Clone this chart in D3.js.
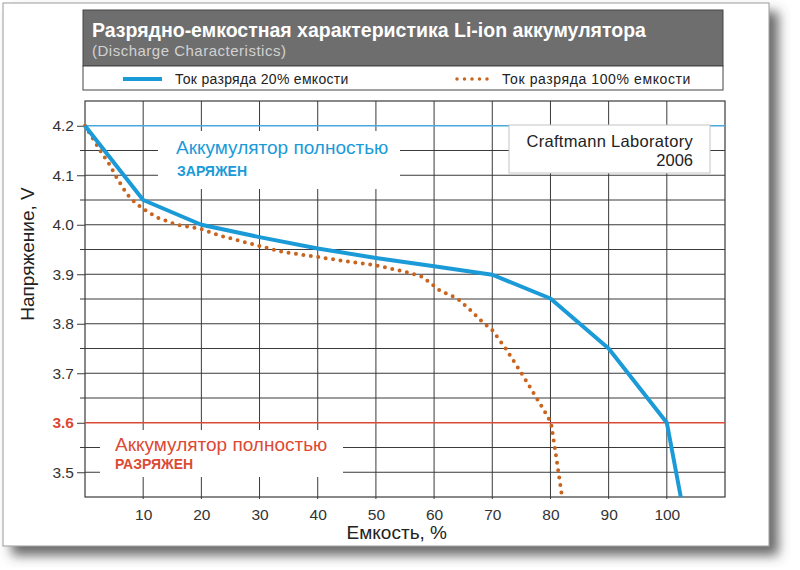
<!DOCTYPE html>
<html>
<head>
<meta charset="utf-8">
<script src="https://cdn.jsdelivr.net/npm/d3@7"></script>
<style>
  body { margin: 0; background: #fff; }
  svg { display: block; font-family: "Liberation Sans", Arial, sans-serif; }
</style>
</head>
<body>
<div id="chart"></div>
<script>
const width = 800;
const height = 570;

// capacity, % / voltage, V
const capacity20 = [0, 10, 20, 30, 40, 50, 60, 70, 80, 90, 100, 102.4];
const voltage20 = [4.2, 4.05, 4.0, 3.975, 3.952, 3.933, 3.916, 3.899, 3.851, 3.75, 3.6, 3.45];

const capacity100 = [0, 2.6, 4.3, 5.4, 7.2, 8.6, 10, 12.3, 15.8, 19.8, 23.2, 29, 34, 40, 45, 50, 55, 58, 61, 64, 66, 68, 70, 72.3, 75.4, 78.9, 80.1, 81, 82];
const voltage100 = [4.2, 4.15, 4.12, 4.096, 4.062, 4.045, 4.032, 4.015, 4.0, 3.992, 3.978, 3.96, 3.945, 3.935, 3.926, 3.918, 3.905, 3.895, 3.867, 3.851, 3.83, 3.807, 3.787, 3.75, 3.693, 3.625, 3.6, 3.53, 3.45];

const xTicks = [10, 20, 30, 40, 50, 60, 70, 80, 90, 100];
const yTicks = [3.5, 3.6, 3.7, 3.8, 3.9, 4.0, 4.1, 4.2];
const gridY = [3.5, 3.55, 3.65, 3.7, 3.75, 3.8, 3.85, 3.9, 3.95, 4.0, 4.05, 4.1, 4.15];

const title = 'Разрядно-емкостная характеристика Li-ion аккумулятора';
const subtitle = '(Discharge Characteristics)';
const legendLabels = ['Ток разряда 20% емкости', 'Ток разряда 100% емкости'];

const blue = '#1b9ad8';
const orange = '#c8641e';
const red = '#dc4a35';

const svg = d3.select('#chart')
    .append('svg')
    .attr('width', width)
    .attr('height', height);

// card with shadow
const defs = svg.append('defs');
const f = defs.append('filter').attr('id', 'shadow')
    .attr('x', '-5%').attr('y', '-5%').attr('width', '115%').attr('height', '115%');
f.append('feDropShadow')
    .attr('dx', 9).attr('dy', 9).attr('stdDeviation', 6)
    .attr('flood-color', '#444').attr('flood-opacity', 0.8);

svg.append('rect')
    .attr('x', 3).attr('y', 3).attr('width', 766).attr('height', 543)
    .attr('fill', '#fff').attr('stroke', '#9a9a9a')
    .attr('filter', 'url(#shadow)');

// header
svg.append('rect')
    .attr('x', 83).attr('y', 10).attr('width', 640).attr('height', 56)
    .attr('fill', '#6e6e6e').attr('stroke', '#444');
svg.append('rect')
    .attr('x', 83).attr('y', 66).attr('width', 640).attr('height', 24)
    .attr('fill', '#fff').attr('stroke', '#444');

svg.append('text').attr('x', 92).attr('y', 37)
    .attr('fill', '#fff').attr('font-weight', 'bold').attr('font-size', 19.5)
    .text(title);
svg.append('text').attr('x', 92).attr('y', 56)
    .attr('fill', '#d2d2d2').attr('font-size', 15).attr('letter-spacing', 0.5)
    .text(subtitle);

// legend
svg.append('line').attr('x1', 123).attr('x2', 162).attr('y1', 79).attr('y2', 79)
    .attr('stroke', blue).attr('stroke-width', 4);
svg.append('text').attr('x', 175).attr('y', 84).attr('font-size', 14).attr('letter-spacing', 0.3).attr('fill', '#222')
    .text(legendLabels[0]);
svg.append('line').attr('x1', 457).attr('x2', 494).attr('y1', 79).attr('y2', 79)
    .attr('stroke', orange).attr('stroke-width', 3.5)
    .attr('stroke-linecap', 'round').attr('stroke-dasharray', '0,7.5');
svg.append('text').attr('x', 502).attr('y', 84).attr('font-size', 14).attr('letter-spacing', 0.6).attr('fill', '#222')
    .text(legendLabels[1]);

// scales
const xScale = d3.scaleLinear().domain([0, 110]).range([85, 725]);
const yScale = d3.scaleLinear().domain([3.45, 4.25]).range([497, 101]);

const grid = svg.append('g').attr('stroke', '#3a3a3a').attr('stroke-width', 1);

grid.selectAll('line.h')
    .data(gridY)
    .join('line')
    .attr('class', 'h')
    .attr('x1', xScale(0)).attr('x2', xScale(110))
    .attr('y1', d => yScale(d)).attr('y2', d => yScale(d));

grid.selectAll('line.v')
    .data(xTicks)
    .join('line')
    .attr('class', 'v')
    .attr('x1', d => xScale(d)).attr('x2', d => xScale(d))
    .attr('y1', yScale(4.25)).attr('y2', yScale(3.45) + 2);

// frame
svg.append('rect')
    .attr('x', xScale(0)).attr('y', yScale(4.25))
    .attr('width', xScale(110) - xScale(0))
    .attr('height', yScale(3.45) - yScale(4.25))
    .attr('fill', 'none').attr('stroke', '#3a3a3a').attr('stroke-width', 1.2);

// y axis ticks and labels
const yAxis = d3.axisLeft(yScale)
    .tickValues(yTicks)
    .tickSize(8)
    .tickPadding(3)
    .tickFormat(d3.format('.1f'));
const gy = svg.append('g')
    .attr('transform', `translate(${xScale(0)},0)`)
    .call(yAxis);
gy.select('.domain').remove();
gy.selectAll('.tick line').attr('stroke', '#3a3a3a');
gy.selectAll('.tick text')
    .attr('font-size', 15.5).attr('font-family', null)
    .attr('fill', d => d === 3.6 ? red : '#333')
    .attr('font-weight', d => d === 3.6 ? 'bold' : null);

svg.append('g').selectAll('line')
    .data(gridY.filter(d => !yTicks.includes(d)))
    .join('line')
    .attr('x1', xScale(0) - 5).attr('x2', xScale(0))
    .attr('y1', d => yScale(d)).attr('y2', d => yScale(d))
    .attr('stroke', '#3a3a3a');

// x axis labels
const xAxis = d3.axisBottom(xScale)
    .tickValues(xTicks)
    .tickSize(0)
    .tickPadding(12);
const gx = svg.append('g')
    .attr('transform', `translate(0,${yScale(3.45)})`)
    .call(xAxis);
gx.select('.domain').remove();
gx.selectAll('.tick text').attr('font-size', 15.5).attr('font-family', null).attr('fill', '#333');

// axis titles
svg.append('text')
    .attr('x', 447).attr('y', 539)
    .attr('text-anchor', 'end').attr('font-size', 19).attr('fill', '#222')
    .text('Емкость, %');
svg.append('text')
    .attr('transform', 'translate(34,254) rotate(-90)')
    .attr('text-anchor', 'middle').attr('font-size', 19).attr('fill', '#222')
    .text('Напряжение, V');

// white boxes behind annotations
svg.append('rect').attr('x', 158).attr('y', 131).attr('width', 242).attr('height', 58).attr('fill', '#fff');
svg.append('rect').attr('x', 100).attr('y', 430).attr('width', 243).attr('height', 47).attr('fill', '#fff');

// reference lines
svg.append('line')
    .attr('x1', xScale(0)).attr('x2', xScale(110))
    .attr('y1', yScale(4.2)).attr('y2', yScale(4.2))
    .attr('stroke', '#4aa8dc').attr('stroke-width', 1.5);
svg.append('line')
    .attr('x1', xScale(0)).attr('x2', xScale(110))
    .attr('y1', yScale(3.6)).attr('y2', yScale(3.6))
    .attr('stroke', red).attr('stroke-width', 1.5);

// annotations
svg.append('text').attr('x', 176).attr('y', 154)
    .attr('font-size', 19).attr('fill', blue)
    .text('Аккумулятор полностью');
svg.append('text').attr('x', 177).attr('y', 176)
    .attr('font-size', 14).attr('font-weight', 'bold').attr('fill', blue)
    .text('ЗАРЯЖЕН');

svg.append('text').attr('x', 115).attr('y', 451)
    .attr('font-size', 19).attr('fill', red)
    .text('Аккумулятор полностью');
svg.append('text').attr('x', 115).attr('y', 469)
    .attr('font-size', 14).attr('font-weight', 'bold').attr('fill', red)
    .text('РАЗРЯЖЕН');

// signature box
svg.append('rect')
    .attr('x', 509).attr('y', 125).attr('width', 201).attr('height', 48)
    .attr('fill', '#fff').attr('stroke', '#c4c4c4');
svg.append('text').attr('x', 693).attr('y', 147)
    .attr('text-anchor', 'end').attr('font-size', 16.5).attr('letter-spacing', 0.3).attr('fill', '#222')
    .text('Craftmann Laboratory');
svg.append('text').attr('x', 693).attr('y', 166)
    .attr('text-anchor', 'end').attr('font-size', 16.5).attr('fill', '#222')
    .text('2006');

// series
const line = d3.line()
    .x(d => xScale(d[0]))
    .y(d => yScale(d[1]));

svg.append('path')
    .datum(d3.zip(capacity100, voltage100))
    .attr('d', line)
    .attr('fill', 'none')
    .attr('stroke', orange)
    .attr('stroke-width', 4)
    .attr('stroke-linecap', 'round')
    .attr('stroke-dasharray', '0,7.5');

svg.append('path')
    .datum(d3.zip(capacity20, voltage20))
    .attr('d', line)
    .attr('fill', 'none')
    .attr('stroke', blue)
    .attr('stroke-width', 4)
    .attr('stroke-linejoin', 'round');
</script>
</body>
</html>
